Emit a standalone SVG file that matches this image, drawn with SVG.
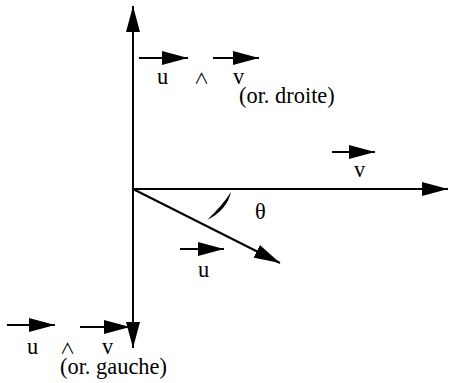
<svg xmlns="http://www.w3.org/2000/svg" width="449" height="383" viewBox="0 0 449 383">
<defs>
<marker id="ah" markerUnits="userSpaceOnUse" markerWidth="26" markerHeight="14" refX="26" refY="7" orient="auto-start-reverse" viewBox="0 0 26 14">
<path d="M0,0 L26,7 L0,14 Z" fill="#000"/>
</marker>
</defs>
<style>
.ln{stroke:#000;stroke-width:2;fill:none}
.ar{marker-end:url(#ah)}
text{fill:#000}
.w{font-family:'Noto Sans CJK JP','DejaVu Serif',sans-serif;font-size:15px}
</style>
<rect width="449" height="383" fill="#fff"/>
<g id="connectors">
<line id="axis-y" class="ln ar" x1="133" y1="348" x2="133" y2="6" style="marker-start:url(#ah)"/>
<line id="axis-x" class="ln ar" x1="133" y1="189" x2="448" y2="189"/>
<line id="vec-u" class="ln ar" x1="133" y1="189" x2="280" y2="263"/>
<line class="ln ar" x1="139" y1="58" x2="188" y2="58"/>
<line class="ln ar" x1="213" y1="58" x2="259" y2="58"/>
<line class="ln ar" x1="332" y1="152" x2="375" y2="152"/>
<line class="ln ar" x1="180" y1="249" x2="224" y2="249"/>
<line class="ln ar" x1="7" y1="325" x2="55" y2="325"/>
<line class="ln ar" x1="80" y1="327" x2="130" y2="327"/>
</g>
<g font-family="'Liberation Serif', 'Times New Roman', 'DejaVu Serif', serif" font-size="22.4">
<g id="angle">
<path d="M231,192 Q227,210 207,220 Q222,206 231,192 Z" fill="#000"/>
<text x="255" y="219">θ</text>
</g>
<g id="label-top">
<text x="157" y="84">u</text>
<text class="w" x="194" y="84">∧</text>
<text x="233" y="84">v</text>
<text x="239" y="103">(or. droite)</text>
</g>
<g id="label-v">
<text x="354" y="177">v</text>
</g>
<g id="label-u">
<text x="198" y="277">u</text>
</g>
<g id="label-bottom">
<text x="27" y="354">u</text>
<text class="w" x="60" y="354">∧</text>
<text x="102" y="354">v</text>
<text x="60" y="374">(or. gauche)</text>
</g>
</g>
</svg>
